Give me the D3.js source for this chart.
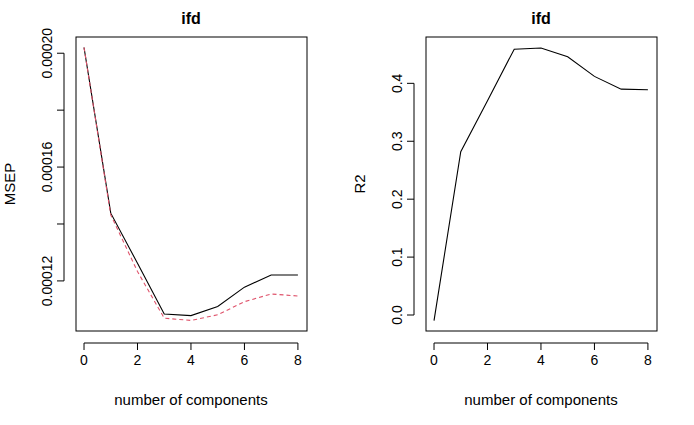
<!DOCTYPE html>
<html><head><meta charset="utf-8">
<script src="https://cdn.jsdelivr.net/npm/d3@7"></script>
<style>body{margin:0;background:#fff}text{font-family:"Liberation Sans",Arial,sans-serif;fill:#000}</style>
</head><body>
<svg id="c" width="694" height="425"></svg>
<script>
var comps = [0, 1, 2, 3, 4, 5, 6, 7, 8];
var msepCV = [0.000202, 0.0001438, 0.0001262, 0.0001084, 0.0001078, 0.000111, 0.0001178, 0.0001221, 0.0001221];
var msepAdj = [0.000202, 0.0001432, 0.0001233, 0.0001069, 0.0001061, 0.0001081, 0.0001127, 0.0001154, 0.0001147];
var r2 = [-0.0098, 0.282, 0.37, 0.459, 0.461, 0.446, 0.412, 0.390, 0.389];
var xTicks = [0, 2, 4, 6, 8];
var msepTicks = [0.00012, 0.00014, 0.00016, 0.00018, 0.0002];
var msepLabels = [0.00012, 0.00016, 0.0002];
var r2Ticks = [0, 0.1, 0.2, 0.3, 0.4];

var svg = d3.select("#c");

function panel(opts) {
  var x = d3.scaleLinear().domain([-0.3, 8.34]).range([opts.left, opts.left + 231]);
  var y = d3.scaleLinear().domain(opts.ydom).range([331, 37]);
  var g = svg.append("g");

  g.append("rect").attr("x", opts.left).attr("y", 37).attr("width", 231).attr("height", 294)
    .attr("fill", "none").attr("stroke", "#000");

  // x axis
  g.append("line").attr("x1", x(0)).attr("x2", x(8)).attr("y1", 343).attr("y2", 343).attr("stroke", "#000");
  xTicks.forEach(function (t) {
    g.append("line").attr("x1", x(t)).attr("x2", x(t)).attr("y1", 343).attr("y2", 350).attr("stroke", "#000");
    g.append("text").attr("x", x(t)).attr("y", 365).attr("text-anchor", "middle").style("font-size", "14px").text(t);
  });

  // y axis
  var yt = opts.yticks;
  g.append("line").attr("x1", opts.left - 12).attr("x2", opts.left - 12)
    .attr("y1", y(yt[0])).attr("y2", y(yt[yt.length - 1])).attr("stroke", "#000");
  yt.forEach(function (t) {
    g.append("line").attr("x1", opts.left - 12).attr("x2", opts.left - 19)
      .attr("y1", y(t)).attr("y2", y(t)).attr("stroke", "#000");
  });
  opts.ylabels.forEach(function (t) {
    g.append("text").attr("transform", "translate(" + (opts.left - 24) + "," + y(t) + ") rotate(-90)")
      .attr("text-anchor", "middle").style("font-size", "14px").text(opts.fmt(t));
  });

  g.append("text").attr("x", opts.left + 115).attr("y", 24).attr("text-anchor", "middle")
    .style("font-size", "16px").style("font-weight", "bold").text("ifd");
  g.append("text").attr("x", opts.left + 115).attr("y", 405).attr("text-anchor", "middle")
    .style("font-size", "15px").text("number of components");
  g.append("text").attr("transform", "translate(" + opts.ylx + ",184) rotate(-90)")
    .attr("text-anchor", "middle").style("font-size", "15px").text(opts.ylab);

  var line = d3.line().x(function (d, i) { return x(comps[i]); }).y(function (d) { return y(d); });
  opts.series.forEach(function (s) {
    g.append("path").attr("d", line(s.values)).attr("fill", "none")
      .attr("stroke", s.color).attr("stroke-width", 1.1).attr("stroke-dasharray", s.dash);
  });
}

panel({
  left: 76, ydom: [0.0001024, 0.0002057], yticks: msepTicks, ylabels: msepLabels,
  fmt: function (v) { return v.toFixed(5); }, ylab: "MSEP", ylx: 15,
  series: [
    { values: msepCV, color: "#000", dash: null },
    { values: msepAdj, color: "#DF536B", dash: "4,3" }
  ]
});
panel({
  left: 426, ydom: [-0.0276, 0.480], yticks: r2Ticks, ylabels: r2Ticks,
  fmt: function (v) { return v.toFixed(1); }, ylab: "R2", ylx: 365,
  series: [{ values: r2, color: "#000", dash: null }]
});
</script>
</body></html>
